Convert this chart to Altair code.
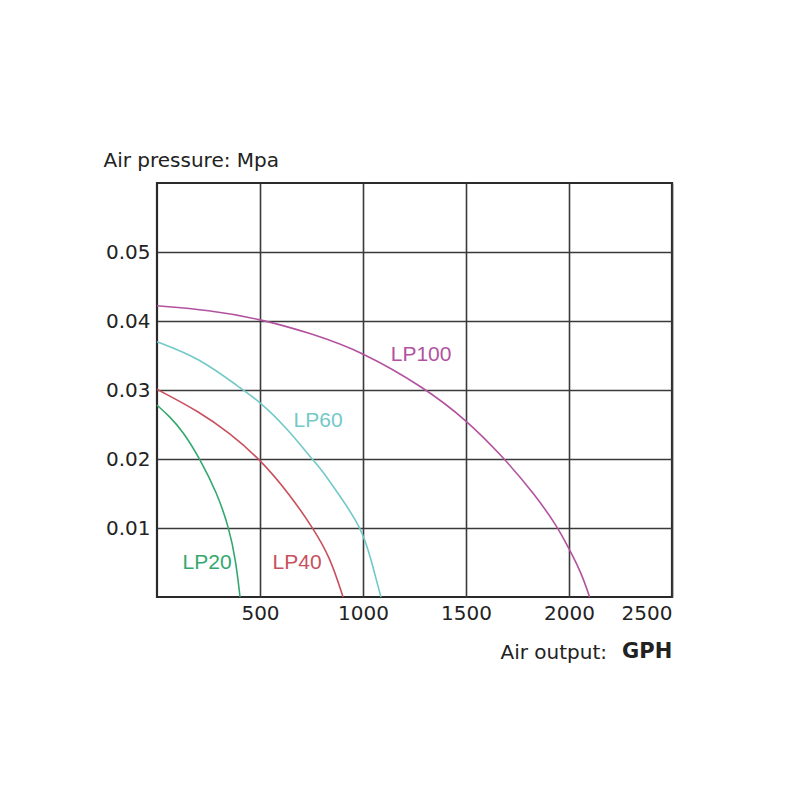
import altair as alt
import pandas as pd

# Curve data
lp20_x = [0, 60, 126, 209, 291, 350, 383, 403]
lp20_y = [0.0278, 0.0262, 0.0240, 0.0200, 0.0151, 0.0100, 0.0052, 0.0]

lp40_x = [0, 209, 350, 500, 646, 757, 840, 903]
lp40_y = [0.0301, 0.0268, 0.0238, 0.0200, 0.0148, 0.0100, 0.0058, 0.0]

lp60_x = [0, 209, 403, 500, 630, 752, 801, 870, 995, 1044, 1087]
lp60_y = [0.0370, 0.0346, 0.0303, 0.0283, 0.0245, 0.0200, 0.0184, 0.0154, 0.0100, 0.0049, 0.0]

lp100_x = [0, 250, 500, 750, 1000, 1300, 1500, 1680, 1830, 1942, 2000, 2060, 2100]
lp100_y = [0.0422, 0.0416, 0.0403, 0.0382, 0.0355, 0.0303, 0.0257, 0.0203, 0.0150, 0.0103, 0.0070, 0.0035, 0.0]

series_names = ["LP20", "LP40", "LP60", "LP100"]
series_colors = ["#33a86e", "#c8505e", "#72c9c8", "#b2529f"]

label_x = [243, 680, 782, 1282]
label_y = [0.0049, 0.0049, 0.0255, 0.0351]

x_ticks = [500, 1000, 1500, 2000, 2500]
y_ticks = [0.01, 0.02, 0.03, 0.04, 0.05]

rows = []
for name, xs, ys in zip(series_names,
                        [lp20_x, lp40_x, lp60_x, lp100_x],
                        [lp20_y, lp40_y, lp60_y, lp100_y]):
    for i, (xv, yv) in enumerate(zip(xs, ys)):
        rows.append({"series": name, "x": xv, "y": yv, "order": i})
curves = pd.DataFrame(rows)

labels = pd.DataFrame({"series": series_names, "x": label_x, "y": label_y})

color_scale = alt.Scale(domain=series_names, range=series_colors)

x_enc = alt.X("x:Q", scale=alt.Scale(domain=[0, 2500], nice=False),
              axis=alt.Axis(values=x_ticks, format="d", grid=True,
                            gridColor="#3a3a3a", gridWidth=1.6, ticks=False,
                            domain=False, labelFontSize=20, labelColor="#222",
                            labelFont="DejaVu Sans", labelPadding=6,
                            title="Air output:", titleFont="DejaVu Sans",
                            titleFontSize=20, titleFontWeight="normal",
                            titleColor="#222", titleAngle=0, titleAlign="left",
                            titleBaseline="alphabetic", titleX=343, titleY=61))
y_enc = alt.Y("y:Q", scale=alt.Scale(domain=[0, 0.06], nice=False),
              axis=alt.Axis(values=y_ticks, format=".2f", grid=True,
                            gridColor="#3a3a3a", gridWidth=1.6, ticks=False,
                            domain=False, labelFontSize=20, labelColor="#222",
                            labelFont="DejaVu Sans", labelPadding=7,
                            title="Air pressure: Mpa", titleFont="DejaVu Sans",
                            titleFontSize=20, titleFontWeight="normal",
                            titleColor="#222", titleAngle=0, titleAlign="left",
                            titleBaseline="alphabetic", titleX=-54, titleY=-17))

lines = alt.Chart(curves).mark_line(strokeWidth=1.6, interpolate="basis").encode(
    x=x_enc, y=y_enc,
    color=alt.Color("series:N", scale=color_scale, legend=None),
    detail="series:N",
    order="order:Q",
)

texts = alt.Chart(labels).mark_text(font="Liberation Sans", fontSize=21,
                                    align="center", baseline="middle").encode(
    x="x:Q", y="y:Q", text="series:N",
    color=alt.Color("series:N", scale=color_scale, legend=None),
)

unit = alt.Chart(pd.DataFrame({"t": ["GPH"]})).mark_text(
    font="DejaVu Sans", fontSize=21, fontWeight="bold", color="#222",
    align="left", baseline="alphabetic").encode(
    x=alt.value(465), y=alt.value(475), text="t:N")

chart = alt.layer(lines, texts, unit).properties(
    width=515, height=414,
    autosize=alt.AutoSizeParams(type="none"),
    padding={"left": 149, "top": 175, "right": 120, "bottom": 195},
    background="white",
).configure_view(stroke="#2a2a2a", strokeWidth=2.2)

chart.save("out.html", embed_options={"renderer": "svg", "actions": False})
